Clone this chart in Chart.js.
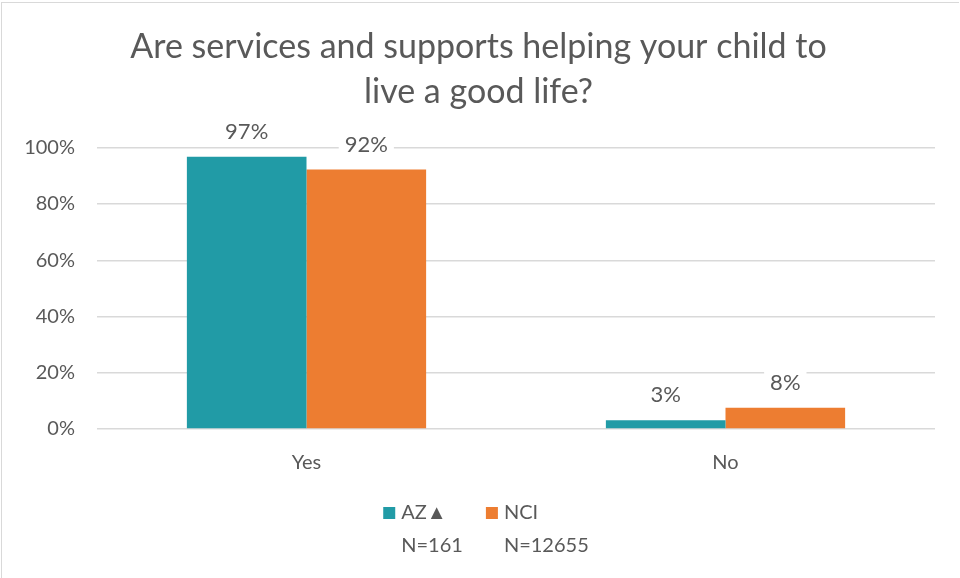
<!DOCTYPE html>
<html>
<head>
<meta charset="utf-8">
<script src="https://cdn.jsdelivr.net/npm/chart.js@4.4.1/dist/chart.umd.min.js"></script>
<style>
  html, body { margin: 0; padding: 0; background: #fff; }
  #wrap { position: absolute; left: 1px; top: 2px; width: 957px; height: 576px;
          border-top: 1px solid #d9d9d9; border-left: 1px solid #d9d9d9; }
</style>
</head>
<body>
<div id="wrap"><canvas id="chart" width="957" height="575"></canvas></div>
<script>
// ------------- data --------------------------- //

var categories = ["Yes", "No"]

var azValues = [96.8, 3.1]

var nciValues = [92.3, 7.6]

var seriesNames = ["AZ▲", "NCI"]

var seriesCounts = ["N=161", "N=12655"]

var titleLines = ["Are services and supports helping your child to", "live a good life?"]

var grey = "#595959"
var font = "Lato, 'Open Sans', sans-serif"

// value labels above the bars
var barLabels = {
    id: "barLabels",
    afterDatasetsDraw: function (chart) {
        var ctx = chart.ctx
        ctx.save()
        ctx.font = "22px " + font
        ctx.textAlign = "center"
        ctx.textBaseline = "middle"
        chart.data.datasets.forEach(function (ds, i) {
            chart.getDatasetMeta(i).data.forEach(function (bar, j) {
                var txt = Math.round(ds.data[j]) + "%"
                var w = ctx.measureText(txt).width + 12
                var y = bar.y - 25
                ctx.fillStyle = "#fff"
                ctx.fillRect(bar.x - w / 2, y - 12, w, 24)
                ctx.fillStyle = grey
                ctx.fillText(txt, bar.x, y)
            })
        })
        ctx.restore()
    }
}

// two line legend (name + N) under the axis
var twoLineLegend = {
    id: "twoLineLegend",
    afterDraw: function (chart) {
        var ctx = chart.ctx
        ctx.save()
        ctx.font = "20px " + font
        ctx.textBaseline = "middle"
        ctx.textAlign = "left"
        var widths = chart.data.datasets.map(function (ds, i) {
            return 18 + Math.max(ctx.measureText(ds.label).width, ctx.measureText(seriesCounts[i]).width)
        })
        var gap = 23
        var total = widths.reduce(function (a, b) { return a + b }, 0) + gap * (widths.length - 1)
        var x = chart.width / 2 + 5.5 - total / 2
        var y1 = chart.chartArea.bottom + 84
        var y2 = y1 + 33
        chart.data.datasets.forEach(function (ds, i) {
            ctx.fillStyle = ds.backgroundColor
            ctx.fillRect(x, y1 - 6, 12, 12)
            ctx.fillStyle = grey
            ctx.fillText(ds.label, x + 18, y1)
            ctx.fillText(seriesCounts[i], x + 18, y2)
            x += widths[i] + gap
        })
        ctx.restore()
    }
}

var chart = new Chart("chart", {
    type: "bar",
    data: {
        labels: categories,
        datasets: [{
            label: seriesNames[0],
            backgroundColor: "#219ba6",
            data: azValues
        }, {
            label: seriesNames[1],
            backgroundColor: "#ed7d31",
            data: nciValues
        }]
    },
    options: {
        responsive: false,
        animation: false,
        categoryPercentage: 0.571,
        barPercentage: 1,
        layout: { padding: { left: 20, right: 24, top: 0, bottom: 89 } },
        scales: {
            x: {
                grid: { display: false },
                border: { display: false },
                ticks: { color: grey, font: { family: font, size: 20 }, padding: 14 }
            },
            y: {
                min: 0,
                max: 100,
                afterFit: function (scale) { scale.width = 75 },
                ticks: {
                    stepSize: 20,
                    color: grey,
                    padding: 22,
                    font: { family: font, size: 20 },
                    callback: function (v) { return v + "%" }
                },
                grid: { color: "#d9d9d9", lineWidth: 1.5, drawTicks: false },
                border: { display: false }
            }
        },
        plugins: {
            title: {
                display: true,
                text: titleLines,
                color: grey,
                font: { family: font, size: 34, weight: "normal", lineHeight: 1.32 },
                padding: { top: 22, bottom: 33 }
            },
            legend: { display: false },
            tooltip: { enabled: false }
        }
    },
    plugins: [barLabels, twoLineLegend]
});
</script>
</body>
</html>
